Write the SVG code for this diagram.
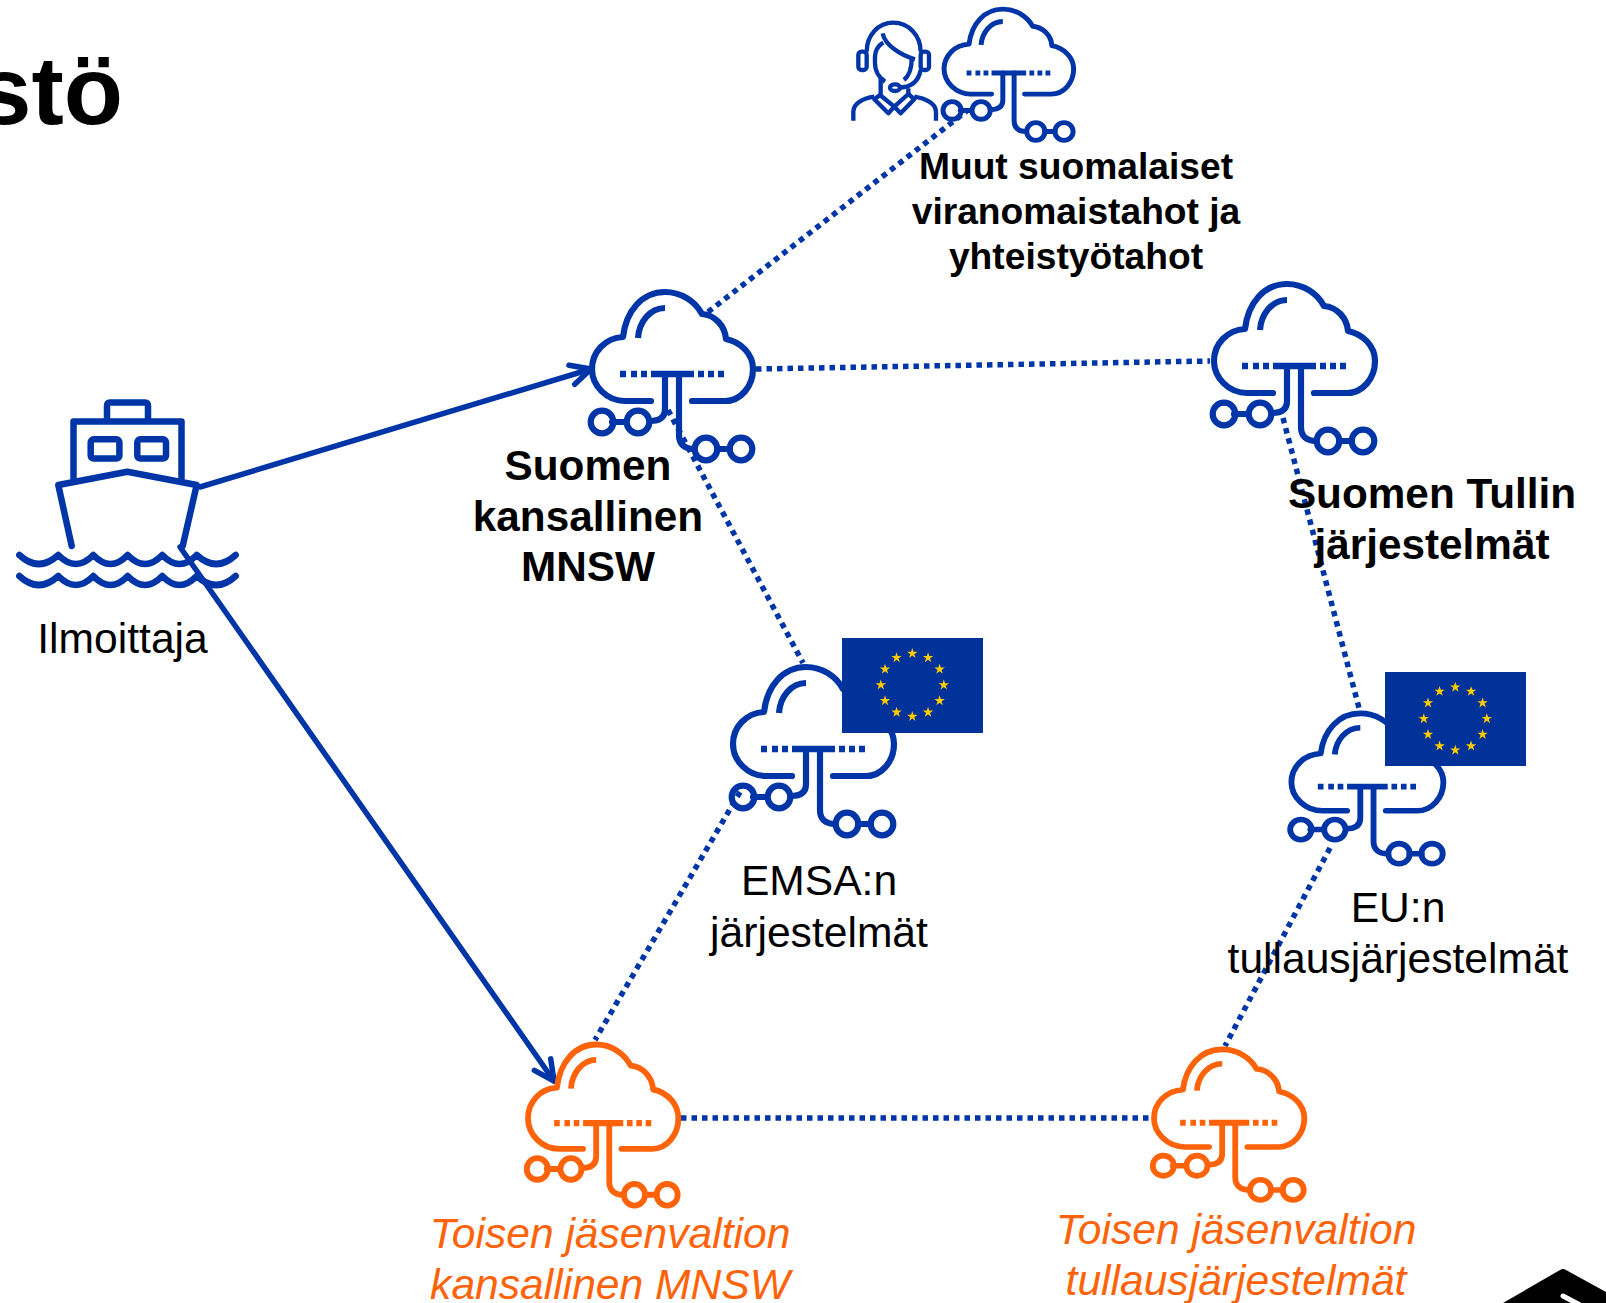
<svg xmlns="http://www.w3.org/2000/svg" width="1606" height="1303" viewBox="0 0 1606 1303">
<style>
text{font-family:"Liberation Sans",Arial,sans-serif;font-size:42.6px;text-anchor:middle;fill:#000}
.b{font-weight:bold;font-size:42.3px}
.b.m{font-size:37.2px}
.o{font-style:italic;fill:#FF6309}
.line{fill:none;stroke:#0035A8;stroke-width:5.5;stroke-linecap:round;stroke-linejoin:round}
.dot{fill:none;stroke:#0035A8;stroke-width:5.5;stroke-dasharray:5.5 5}
.blue{fill:none;stroke:#0035A8;stroke-width:6.200;stroke-linecap:round;stroke-linejoin:round}
.orange{fill:none;stroke:#FF6309;stroke-width:6.200;stroke-linecap:round;stroke-linejoin:round}
.ship{fill:none;stroke:#0035A8;stroke-width:6.5;stroke-linecap:round;stroke-linejoin:round}
.star{fill:#FFCC00}
.flag{fill:#00329A}
</style>
<defs>
<g id="cloud">
<path d="M91,131H65C47,131 32,116 32,99C32,82 45,68 63,67C66,41 82,22 105,22C121,22 135,31 142,44C155,45 165,56 166,69C181,72 193,84 193,99C193,116 181,131 165,131H132"/>
<path d="M78,68C79,52 90,38 105,38" stroke-linecap="butt"/>
<path d="M60,104H66M71,104H77M81,104H87M91,104H134M138,104H144M148,104H154M158,104H164" stroke-width="6.5" stroke-linecap="butt"/>
<path d="M105,104V139C105,147 100,151 90,151M119,104V165C119,174 124,179 134,179M52,152H66M157,179H170"/>
<circle cx="42" cy="152" r="11.3"/><circle cx="78" cy="152" r="11.3"/>
<circle cx="146" cy="179" r="11.3"/><circle cx="181" cy="179" r="11.3"/>
</g>
<polygon id="s" class="star" points="0,-5.500 1.23,-1.7 5.23,-1.7 2,.65 3.23,4.45 0,2.1 -3.23,4.45 -2,.65 -5.23,-1.7 -1.23,-1.7"/>
<g id="stars">
<use href="#s" x="0" y="-31.5"/><use href="#s" x="15.75" y="-27.28"/><use href="#s" x="27.28" y="-15.75"/><use href="#s" x="31.5" y="0"/><use href="#s" x="27.28" y="15.75"/><use href="#s" x="15.75" y="27.28"/><use href="#s" x="0" y="31.5"/><use href="#s" x="-15.75" y="27.28"/><use href="#s" x="-27.28" y="15.75"/><use href="#s" x="-31.5" y="0"/><use href="#s" x="-27.28" y="-15.75"/><use href="#s" x="-15.75" y="-27.28"/>
</g>
<marker id="arrow" viewBox="-24 -14 28 28" refX="0" refY="0" markerWidth="28" markerHeight="28" markerUnits="userSpaceOnUse" orient="auto">
<path d="M-20,-10L0,0L-20,10" fill="none" stroke="#0035A8" stroke-width="5.5" stroke-linecap="round" stroke-linejoin="round"/>
</marker>
</defs>
<rect width="1606" height="1303" fill="#fff"/>
<text class="b" x="123" y="124" style="font-size:97px;text-anchor:end">stö</text>
<g id="connectors">
<path class="line" d="M200,487L591,369" marker-end="url(#arrow)"/>
<path class="line" d="M180,547L554,1081" marker-end="url(#arrow)"/>
<path class="dot" d="M708,312L968,110"/>
<path class="dot" d="M756,369L1210,361"/>
<path class="dot" d="M668,410L803,663"/>
<path class="dot" d="M1283,418L1359,708"/>
<path class="dot" d="M740,792L595,1040"/>
<path class="dot" d="M1330,848L1225,1046"/>
<path class="dot" d="M681,1118H1151"/>
</g>
<g id="node-ilmoittaja">
<path class="ship" d="M107,420V406Q107,402.500 110,402.500H145Q148,402.500 148,406V420"/>
<path class="ship" d="M73.5,478V421.500H181.500V478"/>
<rect class="ship" x="90.7" y="439.3" width="28.7" height="19.3" rx="3"/>
<rect class="ship" x="137.3" y="439.3" width="28.7" height="19.3" rx="3"/>
<path class="ship" d="M71.7,546L58.3,485L127.3,471.7L196.7,485L182.7,546"/>
<path class="ship" d="M19.3,555Q38.8,573 58.3,555Q75.8,573 93.3,555Q110.5,573 127.7,555Q145,573 162.3,555Q179.5,573 196.7,555Q216.2,573 235.7,555"/>
<path class="ship" d="M19.3,576Q38.8,594 58.3,576Q75.8,594 93.3,576Q110.5,594 127.7,576Q145,594 162.3,576Q179.5,594 196.7,576Q216.2,594 235.7,576"/>
<text x="122.5" y="653">Ilmoittaja</text>
</g>
<g id="node-muut">
<g transform="translate(830,0) scale(.3333)" fill="none" stroke="#0035A8" stroke-width="13" stroke-linejoin="round">
<rect x="85" y="155" width="25" height="55" rx="10"/><rect x="272" y="155" width="25" height="55" rx="10"/>
<path d="M110,155C110,105 145,68 190,68C235,68 272,105 272,155"/>
<path d="M158,100C165,135 210,165 255,178"/>
<path d="M160,128C130,145 135,175 135,190C135,215 150,235 165,245"/>
<path d="M245,178C245,205 240,225 222,240"/>
<path d="M152,235V285M235,265V285"/>
<ellipse cx="195" cy="263" rx="15" ry="10"/>
<path d="M205,263C240,263 265,250 272,210"/>
<path d="M150,285L133,298L175,340L193,320L212,340L253,298L235,282"/>
<path d="M150,285L193,320L235,282"/>
<path d="M70,362V335C70,310 100,295 133,290M318,362V335C318,310 285,295 253,290"/>
</g>
<use href="#cloud" class="blue" transform="translate(918.3,-8.1) scale(.805,.78)"/>
<text class="b m" x="1076" y="179">Muut suomalaiset</text>
<text class="b m" x="1076" y="224">viranomaistahot ja</text>
<text class="b m" x="1076" y="269">yhteistyötahot</text>
</g>
<g id="node-suomen">
<use href="#cloud" class="blue" transform="translate(560,270)"/>
<text class="b" x="588" y="480">Suomen</text>
<text class="b" x="588" y="530.500">kansallinen</text>
<text class="b" x="588" y="581">MNSW</text>
</g>
<g id="node-tulli">
<use href="#cloud" class="blue" transform="translate(1182,262)"/>
<text class="b" x="1432" y="508">Suomen Tullin</text>
<text class="b" x="1432" y="559">järjestelmät</text>
</g>
<g id="node-emsa">
<use href="#cloud" class="blue" transform="translate(701,645)"/>
<rect class="flag" x="842" y="638" width="141" height="95"/>
<use href="#stars" x="912.300" y="685"/>
<text x="819" y="895">EMSA:n</text>
<text x="819" y="947">järjestelmät</text>
</g>
<g id="node-eu">
<use href="#cloud" class="blue" transform="translate(1261.2,693.7) scale(.944,.894)"/>
<rect class="flag" x="1385" y="672" width="141" height="94"/>
<use href="#stars" x="1455.300" y="718.700"/>
<text x="1398" y="922">EU:n</text>
<text x="1398" y="973">tullausjärjestelmät</text>
</g>
<g id="node-toinen-mnsw">
<use href="#cloud" class="orange" transform="translate(498.1,1023.5) scale(.934,.957)"/>
<text class="o" x="610" y="1248">Toisen jäsenvaltion</text>
<text class="o" x="610" y="1299">kansallinen MNSW</text>
</g>
<g id="node-toinen-tulli">
<use href="#cloud" class="orange" transform="translate(1124.1,1029.7) scale(.934,.895)"/>
<text class="o" x="1236" y="1244">Toisen jäsenvaltion</text>
<text class="o" x="1236" y="1295">tullausjärjestelmät</text>
</g>
<path d="M1503,1303L1560,1270Q1563,1268 1566,1270L1606,1292V1303Z" fill="#000"/>
<path d="M1563,1296L1580,1305" stroke="#fff" stroke-width="5" stroke-linecap="round" fill="none"/>
</svg>
